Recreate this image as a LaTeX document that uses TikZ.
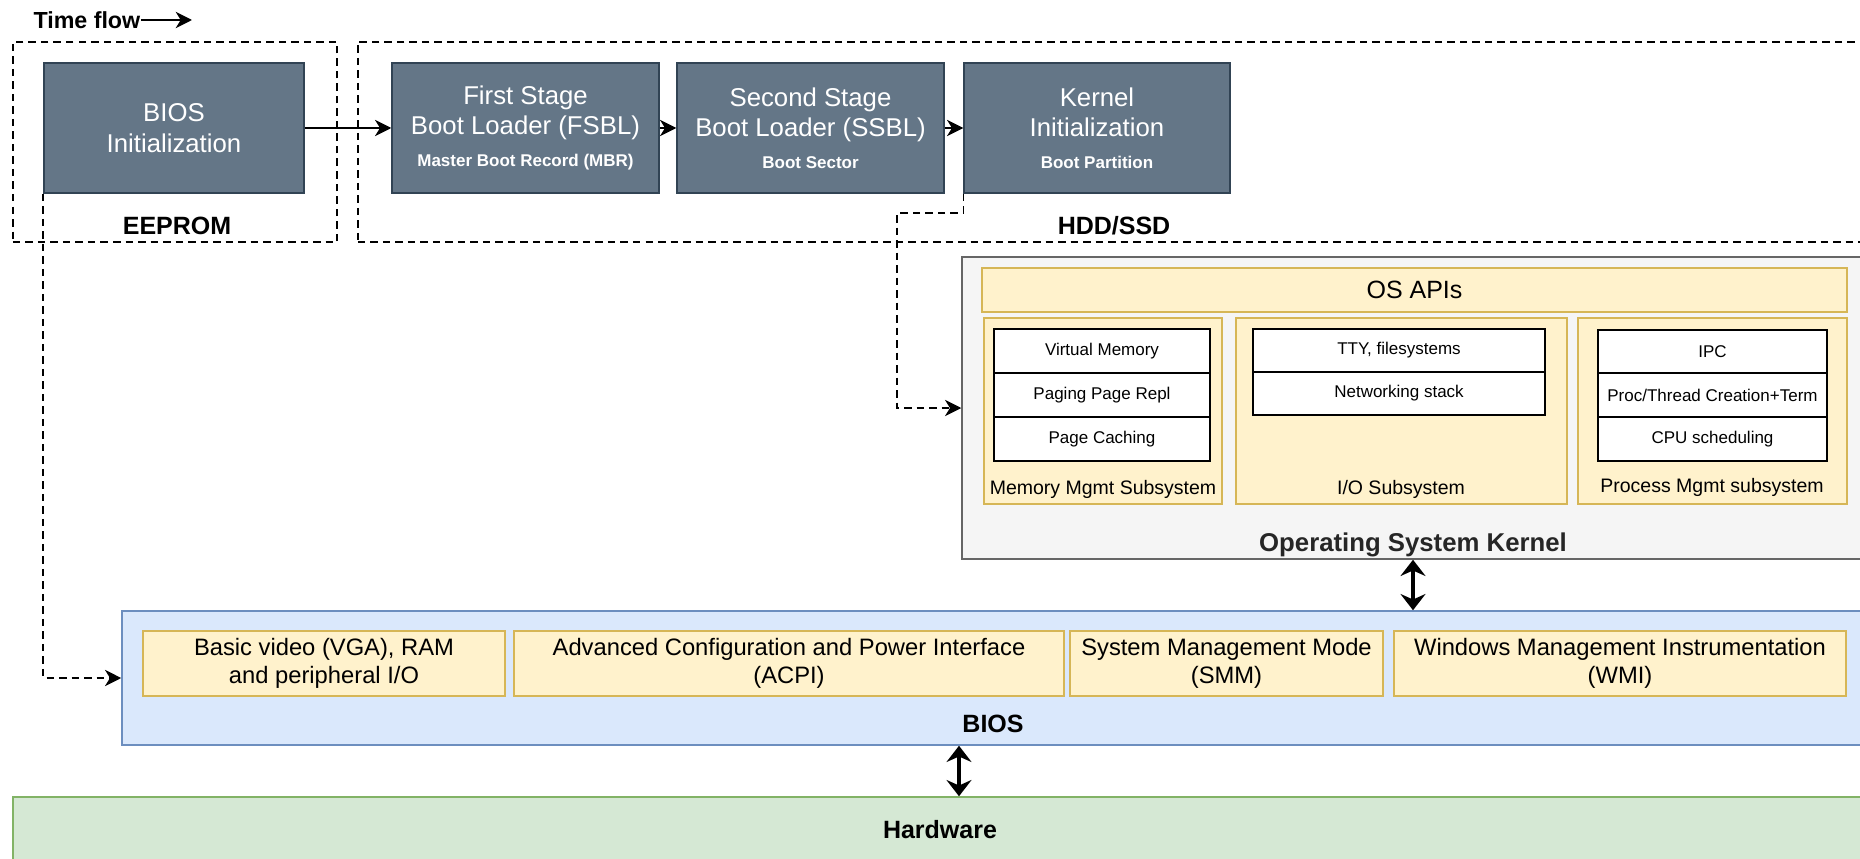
\documentclass[tikz,border=0pt]{standalone}
\usepackage{fontspec}
\setmainfont{Liberation Sans}
\usetikzlibrary{arrows.meta}
\definecolor{darkfill}{HTML}{647687}
\definecolor{darkdraw}{HTML}{314354}
\definecolor{yfill}{HTML}{FFF2CC}
\definecolor{ydraw}{HTML}{D6B656}
\definecolor{bfill}{HTML}{DAE8FC}
\definecolor{bdraw}{HTML}{6C8EBF}
\definecolor{gfill}{HTML}{D5E8D4}
\definecolor{gdraw}{HTML}{82B366}
\definecolor{osfill}{HTML}{F5F5F5}
\definecolor{osdraw}{HTML}{666666}
\tikzset{
  dashbox/.style={draw=black, line width=0.6pt, dash pattern=on 3pt off 2pt, inner sep=0pt},
  darkbox/.style={draw=darkdraw, fill=darkfill, line width=0.6pt, text=white, align=center, inner sep=0pt,
    minimum height=52pt, font=\fontsize{10.3}{12.2}\selectfont},
  ybox/.style={draw=ydraw, fill=yfill, line width=0.6pt, inner sep=0pt, align=center},
  cell/.style={draw=black, fill=white, line width=0.8pt, inner sep=0pt, minimum height=17.6pt,
    font=\fontsize{6.8}{8}\selectfont},
  biosin/.style={ybox, minimum height=26pt, font=\fontsize{9.5}{11.2}\selectfont},
  blabel/.style={font=\fontsize{10}{12}\selectfont\bfseries, inner sep=0pt},
  slabel/.style={font=\fontsize{7.8}{9}\selectfont, inner sep=0pt},
  conn/.style={line width=0.7pt, -{Stealth[length=6.5pt,width=6.5pt,inset=2pt]}},
  dconn/.style={conn, line width=0.6pt, dash pattern=on 3pt off 2pt},
  dbl/.style={line width=1.3pt, {Stealth[length=6.5pt,width=10pt,inset=2.2pt]}-{Stealth[length=6.5pt,width=10pt,inset=2.2pt]}}
}
\begin{document}
\begin{tikzpicture}[x=0.4pt, y=-0.4pt]
\useasboundingbox (0,0) rectangle (1860,859);
\clip (0,0) rectangle (1860,859);
\fill[white] (0,0) rectangle (1860,859);

% time flow
\node[anchor=west, inner sep=0pt, font=\fontsize{9.3}{11}\selectfont\bfseries] (tf) at (33,20) {Time flow};
\coordinate (tfend) at (192,20);
\draw[conn, line width=0.9pt] (tf.east) -- (tfend);

% dashed storage boxes
\node[dashbox, minimum width=129.6pt, minimum height=80pt] (eeprom) at (175,142) {};
\node[dashbox, minimum width=606.8pt, minimum height=80pt] (hdd) at (1116.5,142) {};
\node[blabel] (eepromlbl) at (177,226) {EEPROM};
\node[blabel] (hddlbl) at (1114,226) {HDD/SSD};

% boot stages
\node[darkbox, minimum width=104pt] (biosinit) at (174,128) {BIOS\\Initialization};
\node[darkbox, minimum width=106.8pt] (fsbl) at (525.5,128) {First Stage\\Boot Loader (FSBL)\\[0.5pt]{\fontsize{6.8}{8}\selectfont\bfseries Master Boot Record (MBR)}};
\node[darkbox, minimum width=106.8pt] (ssbl) at (810.5,128) {Second Stage\\Boot Loader (SSBL)\\[0.5pt]{\fontsize{6.8}{8}\selectfont\bfseries Boot Sector}};
\node[darkbox, minimum width=106.4pt] (kernel) at (1097,128) {Kernel\\Initialization\\[0.5pt]{\fontsize{6.8}{8}\selectfont\bfseries Boot Partition}};

\draw[conn] (biosinit.east) -- (fsbl.west);
\draw[conn] (fsbl.east) -- (ssbl.west);
\draw[conn] (ssbl.east) -- (kernel.west);

% OS kernel
\node[draw=osdraw, fill=osfill, line width=0.6pt, inner sep=0pt, minimum width=363.2pt, minimum height=120.8pt] (osbox) at (1416,408) {};
\node[font=\fontsize{10.3}{12}\selectfont\bfseries, inner sep=0pt, text=black!85] (oslbl) at (1413,545) {Operating System Kernel};
\node[ybox, minimum width=346pt, minimum height=17.6pt, font=\fontsize{10}{12}\selectfont] (osapi) at (1414.5,290) {OS APIs};

\node[ybox, minimum width=95.2pt, minimum height=74.4pt] (memsub) at (1103,411) {};
\node[ybox, minimum width=132.4pt, minimum height=74.4pt] (iosub) at (1401.5,411) {};
\node[ybox, minimum width=107.6pt, minimum height=74.4pt] (procsub) at (1712.5,411) {};
\node[slabel] (memlbl) at (1103,489) {Memory Mgmt Subsystem};
\node[slabel] (iolbl) at (1401,489) {I/O Subsystem};
\node[slabel] (proclbl) at (1712,487) {Process Mgmt subsystem};

\node[cell, minimum width=86.4pt] (vm) at (1102,351) {Virtual Memory};
\node[cell, minimum width=86.4pt] (pp) at (1102,395) {Paging Page Repl};
\node[cell, minimum width=86.4pt] (pc) at (1102,439) {Page Caching};

\node[cell, minimum width=116.8pt, minimum height=17.2pt] (tty) at (1399,350.5) {TTY, filesystems};
\node[cell, minimum width=116.8pt, minimum height=17.2pt] (net) at (1399,393.5) {Networking stack};

\node[cell, minimum width=91.6pt] (ipc) at (1712.5,352) {IPC};
\node[cell, minimum width=91.6pt] (ptc) at (1712.5,395) {Proc/Thread Creation+Term};
\node[cell, minimum width=91.6pt] (cpu) at (1712.5,439) {CPU scheduling};

% BIOS
\node[draw=bdraw, fill=bfill, line width=0.6pt, inner sep=0pt, minimum width=701.2pt, minimum height=53.6pt] (biosbox) at (998.5,678) {};
\node[blabel] (bioslbl) at (993,724) {BIOS};
\node[biosin, minimum width=144.8pt] (basic) at (324,663.5) {Basic video (VGA), RAM\\and peripheral I/O};
\node[biosin, minimum width=220pt] (acpi) at (789,663.5) {Advanced Configuration and Power Interface\\(ACPI)};
\node[biosin, minimum width=125.2pt] (smm) at (1226.5,663.5) {System Management Mode\\(SMM)};
\node[biosin, minimum width=180.8pt] (wmi) at (1620,663.5) {Windows Management Instrumentation\\(WMI)};

% Hardware
\node[draw=gdraw, fill=gfill, line width=0.6pt, inner sep=0pt, minimum width=744.8pt, minimum height=41.2pt] (hw) at (944,848.5) {};
\node[blabel] (hwlbl) at (940,830) {Hardware};

% dashed connectors
\coordinate (k1) at (897,213);
\draw[dconn] (kernel.south west) |- (k1) |- (osbox.west);
\draw[dconn] (biosinit.south west) |- (biosbox.west);

% double arrows
\coordinate (a2) at (959,0);
\draw[dbl] (osbox.south -| oslbl) -- (biosbox.north -| oslbl);
\draw[dbl] (biosbox.south -| a2) -- (hw.north -| a2);
\end{tikzpicture}
\end{document}
